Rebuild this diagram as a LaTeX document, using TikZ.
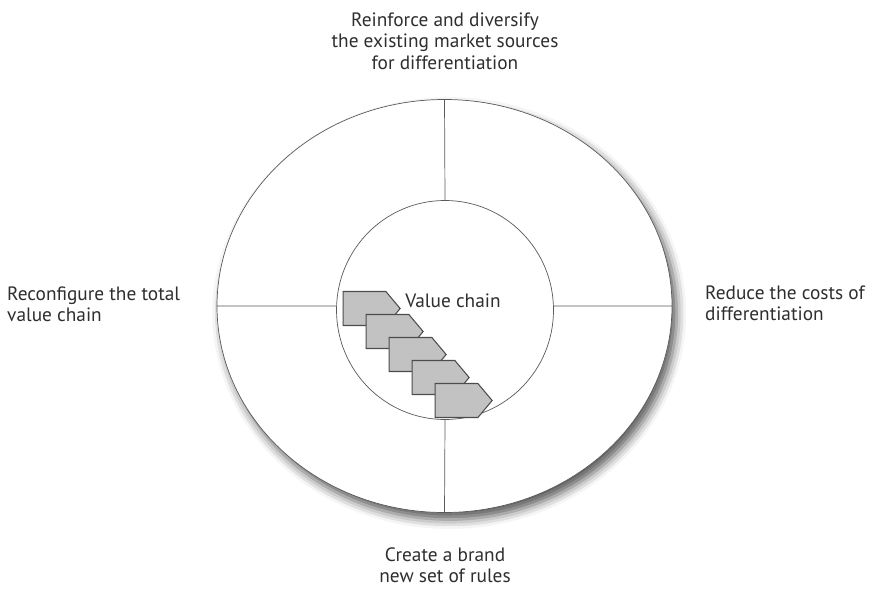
\documentclass[tikz,border=0pt]{standalone}
\usepackage{fontspec}
\setmainfont{PT Sans}
\usepackage{tikz}
\usetikzlibrary{shapes,shapes.symbols,shadows.blur,positioning}
\definecolor{inkgray}{HTML}{2E2E2E}
\definecolor{linegray}{HTML}{5A5A5A}
\definecolor{boxgray}{HTML}{C2C2C2}

\begin{document}
\begin{tikzpicture}[x=0.03cm,y=-0.03cm,
    ring/.style={ellipse,draw=linegray,line width=0.6pt,inner sep=0pt},
    chainbox/.style={signal,signal to=east,signal pointer angle=100,
      fill=boxgray,draw=black!70,line width=0.9pt,
      minimum width=1.71cm,minimum height=1.02cm,inner sep=0pt},
    quadtext/.style={text=inkgray,font=\fontsize{16.5}{18.2}\selectfont,inner sep=0pt}]
  \useasboundingbox (0,0) rectangle (879,588);
  \node[ring,fill=white,minimum width=13.65cm,minimum height=12.39cm,
    blur shadow={shadow xshift=4pt,shadow yshift=-6pt,shadow blur radius=8pt,shadow opacity=65}]
    (outer) at (444.5,306) {};
  \node[ring,minimum width=6.51cm,minimum height=6.57cm] (inner) at (445,310) {};
  % the four cuts of the ring
  \draw[linegray,line width=0.6pt] (outer.north) -- (inner.north)
    (inner.south) -- (outer.south)
    (outer.west) -- (outer.west -| inner.west)
    (outer.east) -- (outer.east -| inner.east);
  % the chain itself
  \foreach \i in {1,...,5}
    \node[chainbox] (box\i) at ({364.5+23*(\i-1)},{308.5+23*(\i-1)}) {};
  \node[quadtext] (chain) at (453,301) {Value chain};
  \node[quadtext,align=center] (top) at (445,41)
    {Reinforce and diversify\\the existing market sources\\for differentiation};
  \node[quadtext,align=left,anchor=west] (left) at (7,304)
    {Reconfigure the total\\value chain};
  \node[quadtext,align=left,anchor=west] (right) at (705,303)
    {Reduce the costs of\\differentiation};
  \node[quadtext,align=center] (bottom) at (445,565)
    {Create a brand\\new set of rules};
\end{tikzpicture}
\end{document}
